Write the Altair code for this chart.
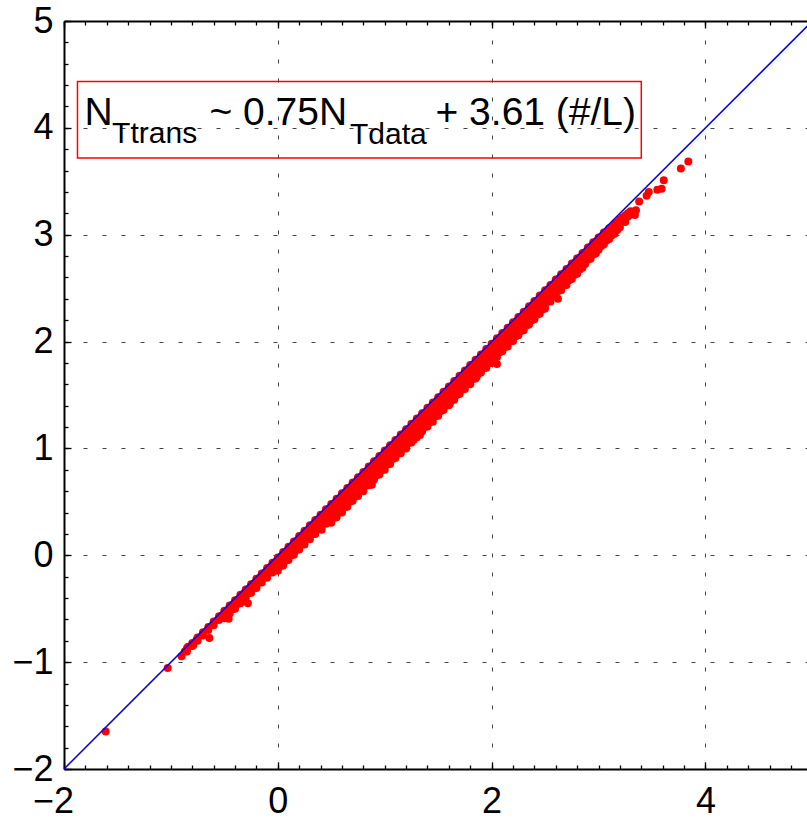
import altair as alt
import pandas as pd

FONT = "Liberation Sans"

# axis ranges (the right edge of the frame runs just past x = 4.9)
X_DOMAIN = [-2, 4.95]
Y_DOMAIN = [-2, 5]

x_major = [-2, 0, 2, 4]
y_major = [-2, -1, 0, 1, 2, 3, 4, 5]
x_minor = [round(-2 + 0.2 * i, 1) for i in range(35)]
y_minor = [round(-2 + 0.2 * i, 1) for i in range(36)]

# 1:1 reference line
ref_x = [-2, 5]
ref_y = [-2, 5]

# dense cloud of (N_Tdata, N_Ttrans) pairs, listed column by column: (x, [y values])
band_low = [
    (-0.85, [-0.87, -0.90]),
    (-0.80, [-0.82, -0.85]),
    (-0.75, [-0.77, -0.80]),
    (-0.70, [-0.72, -0.75]),
    (-0.65, [-0.67, -0.70]),
    (-0.60, [-0.62, -0.655]),
    (-0.55, [-0.57, -0.605]),
    (-0.50, [-0.52, -0.555, -0.59]),
    (-0.45, [-0.47, -0.505, -0.545]),
    (-0.40, [-0.42, -0.46, -0.50]),
    (-0.35, [-0.37, -0.41, -0.45]),
    (-0.30, [-0.32, -0.36, -0.40]),
    (-0.25, [-0.27, -0.31, -0.35]),
    (-0.20, [-0.22, -0.265, -0.305]),
    (-0.15, [-0.17, -0.215, -0.255]),
    (-0.10, [-0.12, -0.165, -0.21]),
    (-0.05, [-0.07, -0.115, -0.16]),
    (0.00, [-0.02, -0.065, -0.11, -0.145]),
    (0.05, [0.03, -0.015, -0.06, -0.095]),
    (0.10, [0.08, 0.035, -0.01, -0.045]),
    (0.15, [0.13, 0.085, 0.04, 0.005]),
    (0.20, [0.18, 0.135, 0.09, 0.055]),
    (0.25, [0.23, 0.185, 0.14, 0.10]),
    (0.30, [0.28, 0.235, 0.19, 0.15]),
    (0.35, [0.33, 0.285, 0.24, 0.20]),
    (0.40, [0.38, 0.335, 0.29, 0.25]),
    (0.45, [0.43, 0.385, 0.34, 0.295]),
]

band_mid = [
    (0.50, [0.48, 0.435, 0.39, 0.345, 0.305]),
    (0.55, [0.53, 0.485, 0.44, 0.395, 0.355]),
    (0.60, [0.58, 0.535, 0.49, 0.445, 0.40]),
    (0.65, [0.63, 0.585, 0.54, 0.495, 0.455]),
    (0.70, [0.68, 0.635, 0.59, 0.545, 0.51]),
    (0.75, [0.73, 0.685, 0.64, 0.595, 0.555]),
    (0.80, [0.78, 0.735, 0.69, 0.645, 0.60]),
    (0.85, [0.83, 0.785, 0.74, 0.695, 0.655]),
    (0.90, [0.88, 0.835, 0.79, 0.745, 0.71]),
    (0.95, [0.93, 0.885, 0.84, 0.795, 0.755]),
    (1.00, [0.98, 0.935, 0.89, 0.845, 0.80]),
    (1.05, [1.03, 0.985, 0.94, 0.895, 0.855]),
    (1.10, [1.08, 1.035, 0.99, 0.945, 0.91]),
    (1.15, [1.13, 1.085, 1.04, 0.995, 0.955]),
    (1.20, [1.18, 1.135, 1.09, 1.045, 1.00]),
    (1.25, [1.23, 1.185, 1.14, 1.095, 1.055]),
    (1.30, [1.28, 1.235, 1.19, 1.145, 1.105]),
    (1.35, [1.33, 1.285, 1.24, 1.195, 1.16]),
    (1.40, [1.38, 1.335, 1.29, 1.245, 1.205]),
    (1.45, [1.43, 1.385, 1.34, 1.295, 1.25]),
    (1.50, [1.48, 1.435, 1.39, 1.345, 1.305]),
    (1.55, [1.53, 1.485, 1.44, 1.395, 1.36]),
    (1.60, [1.58, 1.535, 1.49, 1.445, 1.405]),
    (1.65, [1.63, 1.585, 1.54, 1.495, 1.455]),
    (1.70, [1.68, 1.635, 1.59, 1.545, 1.51]),
    (1.75, [1.73, 1.685, 1.64, 1.595, 1.555]),
    (1.80, [1.78, 1.735, 1.69, 1.645, 1.60]),
    (1.85, [1.83, 1.785, 1.74, 1.695, 1.655]),
    (1.90, [1.88, 1.835, 1.79, 1.745, 1.71]),
    (1.95, [1.93, 1.885, 1.84, 1.795, 1.755]),
    (2.00, [1.98, 1.935, 1.89, 1.845, 1.80]),
    (2.05, [2.03, 1.985, 1.94, 1.895, 1.855]),
    (2.10, [2.08, 2.035, 1.99, 1.945, 1.91]),
    (2.15, [2.13, 2.085, 2.04, 1.995, 1.955]),
    (2.20, [2.18, 2.135, 2.09, 2.045, 2.005]),
    (2.25, [2.23, 2.185, 2.14, 2.095, 2.06]),
    (2.30, [2.28, 2.235, 2.19, 2.145, 2.105]),
    (2.35, [2.33, 2.285, 2.24, 2.195, 2.16]),
    (2.40, [2.38, 2.335, 2.29, 2.245, 2.21]),
    (2.45, [2.43, 2.385, 2.34, 2.295, 2.26]),
    (2.50, [2.48, 2.435, 2.39, 2.345, 2.31]),
]

band_high = [
    (2.55, [2.53, 2.49, 2.45, 2.41, 2.375]),
    (2.60, [2.58, 2.54, 2.50, 2.46, 2.425]),
    (2.65, [2.63, 2.59, 2.55, 2.51, 2.48]),
    (2.70, [2.68, 2.64, 2.60, 2.56, 2.53]),
    (2.75, [2.73, 2.69, 2.65, 2.61, 2.585]),
    (2.80, [2.78, 2.74, 2.70, 2.66, 2.635]),
    (2.85, [2.83, 2.79, 2.75, 2.71, 2.69]),
    (2.90, [2.88, 2.84, 2.80, 2.765]),
    (2.95, [2.93, 2.89, 2.85, 2.815]),
    (3.00, [2.975, 2.935, 2.895, 2.86]),
    (3.05, [3.02, 2.98, 2.94, 2.91]),
    (3.10, [3.06, 3.02, 2.985, 2.96]),
    (3.15, [3.10, 3.065, 3.03, 3.01]),
    (3.20, [3.14, 3.105, 3.07]),
    (3.25, [3.18, 3.145, 3.12]),
    (3.30, [3.22, 3.19]),
]

# pairs lying between the columns above
band_between = [
    (-0.425, [-0.465, -0.505]),
    (-0.375, [-0.415, -0.455]),
    (-0.325, [-0.365, -0.405]),
    (-0.275, [-0.315, -0.355]),
    (-0.225, [-0.265, -0.305]),
    (-0.175, [-0.215, -0.255]),
    (-0.125, [-0.165, -0.205]),
    (-0.075, [-0.115, -0.155]),
    (-0.025, [-0.065, -0.105]),
    (0.025, [-0.02, -0.065, -0.10]),
    (0.075, [0.03, -0.015, -0.05]),
    (0.125, [0.08, 0.035, 0.00]),
    (0.175, [0.13, 0.085, 0.05]),
    (0.225, [0.18, 0.135, 0.10]),
    (0.275, [0.23, 0.185, 0.15]),
    (0.325, [0.28, 0.235, 0.20]),
    (0.375, [0.33, 0.285, 0.25]),
    (0.425, [0.38, 0.335, 0.30]),
    (0.475, [0.43, 0.385, 0.35]),
    (0.525, [0.48, 0.435, 0.39, 0.35]),
    (0.575, [0.53, 0.485, 0.44, 0.40]),
    (0.625, [0.58, 0.535, 0.49, 0.45]),
    (0.675, [0.63, 0.585, 0.54, 0.50]),
    (0.725, [0.68, 0.635, 0.59, 0.55]),
    (0.775, [0.73, 0.685, 0.64, 0.60]),
    (0.825, [0.78, 0.735, 0.69, 0.65]),
    (0.875, [0.83, 0.785, 0.74, 0.70]),
    (0.925, [0.88, 0.835, 0.79, 0.75]),
    (0.975, [0.93, 0.885, 0.84, 0.80]),
    (1.025, [0.98, 0.935, 0.89, 0.85]),
    (1.075, [1.03, 0.985, 0.94, 0.90]),
    (1.125, [1.08, 1.035, 0.99, 0.95]),
    (1.175, [1.13, 1.085, 1.04, 1.00]),
    (1.225, [1.18, 1.135, 1.09, 1.05]),
    (1.275, [1.23, 1.185, 1.14, 1.10]),
    (1.325, [1.28, 1.235, 1.19, 1.15]),
    (1.375, [1.33, 1.285, 1.24, 1.20]),
    (1.425, [1.38, 1.335, 1.29, 1.25]),
    (1.475, [1.43, 1.385, 1.34, 1.30]),
    (1.525, [1.48, 1.435, 1.39, 1.35]),
    (1.575, [1.53, 1.485, 1.44, 1.40]),
    (1.625, [1.58, 1.535, 1.49, 1.45]),
    (1.675, [1.63, 1.585, 1.54, 1.50]),
    (1.725, [1.68, 1.635, 1.59, 1.55]),
    (1.775, [1.73, 1.685, 1.64, 1.60]),
    (1.825, [1.78, 1.735, 1.69, 1.65]),
    (1.875, [1.83, 1.785, 1.74, 1.70]),
    (1.925, [1.88, 1.835, 1.79, 1.75]),
    (1.975, [1.93, 1.885, 1.84, 1.80]),
    (2.025, [1.98, 1.935, 1.89, 1.85]),
    (2.075, [2.03, 1.985, 1.94, 1.90]),
    (2.125, [2.08, 2.035, 1.99, 1.95]),
    (2.175, [2.13, 2.085, 2.04, 2.00]),
    (2.225, [2.18, 2.135, 2.09, 2.05]),
    (2.275, [2.23, 2.185, 2.14, 2.10]),
    (2.325, [2.28, 2.235, 2.19, 2.15]),
    (2.375, [2.33, 2.285, 2.24, 2.20]),
    (2.425, [2.38, 2.335, 2.29, 2.25]),
    (2.475, [2.43, 2.385, 2.34, 2.30]),
    (2.525, [2.485, 2.445, 2.405, 2.375]),
    (2.575, [2.535, 2.495, 2.455, 2.425]),
    (2.625, [2.585, 2.545, 2.505, 2.475]),
    (2.675, [2.635, 2.595, 2.555, 2.525]),
    (2.725, [2.685, 2.645, 2.605, 2.575]),
    (2.775, [2.735, 2.695, 2.655, 2.625]),
    (2.825, [2.785, 2.745, 2.705, 2.675]),
    (2.875, [2.835, 2.795, 2.755, 2.725]),
    (2.925, [2.885, 2.845, 2.805, 2.775]),
    (2.975, [2.935, 2.895, 2.855, 2.825]),
    (3.025, [2.965, 2.925, 2.895]),
    (3.075, [3.015, 2.975, 2.945]),
    (3.125, [3.065, 3.025, 2.995]),
    (3.175, [3.115, 3.075, 3.045]),
    (3.225, [3.16, 3.125]),
    (3.275, [3.20, 3.17]),
]

# isolated pairs away from the dense cloud
sparse_x = [-1.61, -1.03, -0.90, -0.87, -0.84, -0.79, -0.76, -0.64, -0.46, -0.28,
            0.41, 0.88, 1.27, 1.33, 1.61, 1.86, 2.05, 2.62,
            3.34, 3.35, 3.38, 3.45, 3.47, 3.55, 3.59, 3.61, 3.77, 3.84]
sparse_y = [-1.65, -1.055, -0.945, -0.90, -0.855, -0.84, -0.79, -0.775, -0.595, -0.45,
            0.24, 0.66, 1.08, 1.125, 1.42, 1.67, 1.79, 2.40,
            3.185, 3.23, 3.31, 3.365, 3.40, 3.42, 3.43, 3.51, 3.62, 3.685]

# fit annotation: box corners and text anchors in data units
box_x, box_x2 = [-1.874], [3.40]
box_y, box_y2 = [4.434], [3.718]
main_text = ["N", "~ 0.75N", "+ 3.61 (#/L)"]
main_x = [-1.808, -0.640, 1.475]
main_y = [4.027, 4.027, 4.027]
sub_text = ["Ttrans", "Tdata"]
sub_x = [-1.55, 0.675]
sub_y = [3.856, 3.849]

segments = (band_low, band_mid, band_high, band_between)
band_rows = [(x, y) for seg in segments for x, ys in seg for y in ys]
band_df = pd.DataFrame(band_rows, columns=["x", "y"])
sparse_df = pd.DataFrame({"x": sparse_x, "y": sparse_y})
ref_df = pd.DataFrame({"x": ref_x, "y": ref_y})
box_df = pd.DataFrame({"x": box_x, "x2": box_x2, "y": box_y, "y2": box_y2})
main_df = pd.DataFrame({"t": main_text, "x": main_x, "y": main_y})
sub_df = pd.DataFrame({"t": sub_text, "x": sub_x, "y": sub_y})

xs = alt.Scale(domain=X_DOMAIN, nice=False, zero=False)
ys = alt.Scale(domain=Y_DOMAIN, nice=False, zero=False)

GRID = dict(grid=True, gridColor="#444444", gridWidth=1, gridDash=[4, 15])
DOT = dict(color="#ff0000", size=64, opacity=1)


def frame_axis(orient, values=None, labels=True, grid=False):
    kw = dict(orient=orient, ticks=False, domain=True, domainColor="black",
              domainWidth=2, title=None, labels=labels)
    if values is not None:
        kw["values"] = values
    if labels:
        kw.update(format="d", labelFont=FONT, labelFontSize=36, labelColor="black",
                  labelFlush=False, labelOverlap=False)
        if orient in ("bottom", "top"):
            kw.update(labelPadding=15,
                      labelOffset={"condition": {"test": "datum.value < 0", "value": -11},
                                   "value": 0})
        else:
            kw.update(labelPadding=11)
    if grid:
        kw.update(GRID)
    else:
        kw["grid"] = False
    return alt.Axis(**kw)


def tick_axis(orient, values, size):
    # ticks pointing into the plot: shift the axis inwards by its tick length
    return alt.Axis(orient=orient, values=values, offset=-size, tickSize=size,
                    tickWidth=1.3, tickColor="black", ticks=True, labels=False,
                    domain=False, grid=False, title=None)


box = alt.Chart(box_df).mark_rect(fillOpacity=0, stroke="#ff0000", strokeWidth=1.5).encode(
    x=alt.X("x:Q", scale=xs, axis=tick_axis("bottom", x_minor, 4)),
    x2="x2:Q",
    y=alt.Y("y:Q", scale=ys, axis=tick_axis("left", y_minor, 4)),
    y2="y2:Q",
)

band = alt.Chart(band_df).mark_circle(**DOT).encode(
    x=alt.X("x:Q", scale=xs, axis=tick_axis("bottom", x_major, 7)),
    y=alt.Y("y:Q", scale=ys, axis=tick_axis("left", y_major, 7)),
)

sparse = alt.Chart(sparse_df).mark_circle(**DOT).encode(
    x=alt.X("x:Q", scale=xs, axis=tick_axis("top", x_minor, 4)),
    y=alt.Y("y:Q", scale=ys, axis=None),
)

line = alt.Chart(ref_df).mark_line(color="#0000ff", strokeWidth=1.5, clip=True).encode(
    x=alt.X("x:Q", scale=xs, axis=frame_axis("bottom", x_major, grid=True)),
    y=alt.Y("y:Q", scale=ys, axis=frame_axis("left", y_major, grid=True)),
)

main_label = alt.Chart(main_df).mark_text(
    align="left", baseline="alphabetic", font=FONT, fontSize=39, color="black"
).encode(
    x=alt.X("x:Q", scale=xs, axis=frame_axis("top", labels=False)),
    y=alt.Y("y:Q", scale=ys, axis=None),
    text="t:N",
)

sub_label = alt.Chart(sub_df).mark_text(
    align="left", baseline="alphabetic", font=FONT, fontSize=30, color="black"
).encode(
    x=alt.X("x:Q", scale=xs, axis=tick_axis("top", x_major, 7)),
    y=alt.Y("y:Q", scale=ys, axis=None),
    text="t:N",
)

chart = (
    alt.layer(box, band, sparse, line, main_label, sub_label)
    .resolve_axis(x="independent", y="independent")
    .properties(
        width=743,
        height=748,
        padding={"left": 64, "top": 21, "right": 0, "bottom": 53},
        autosize=alt.AutoSizeParams(type="none"),
        background="white",
    )
    .configure_view(stroke=None)
)

chart.save("out.html", embed_options={"renderer": "svg", "actions": False})
